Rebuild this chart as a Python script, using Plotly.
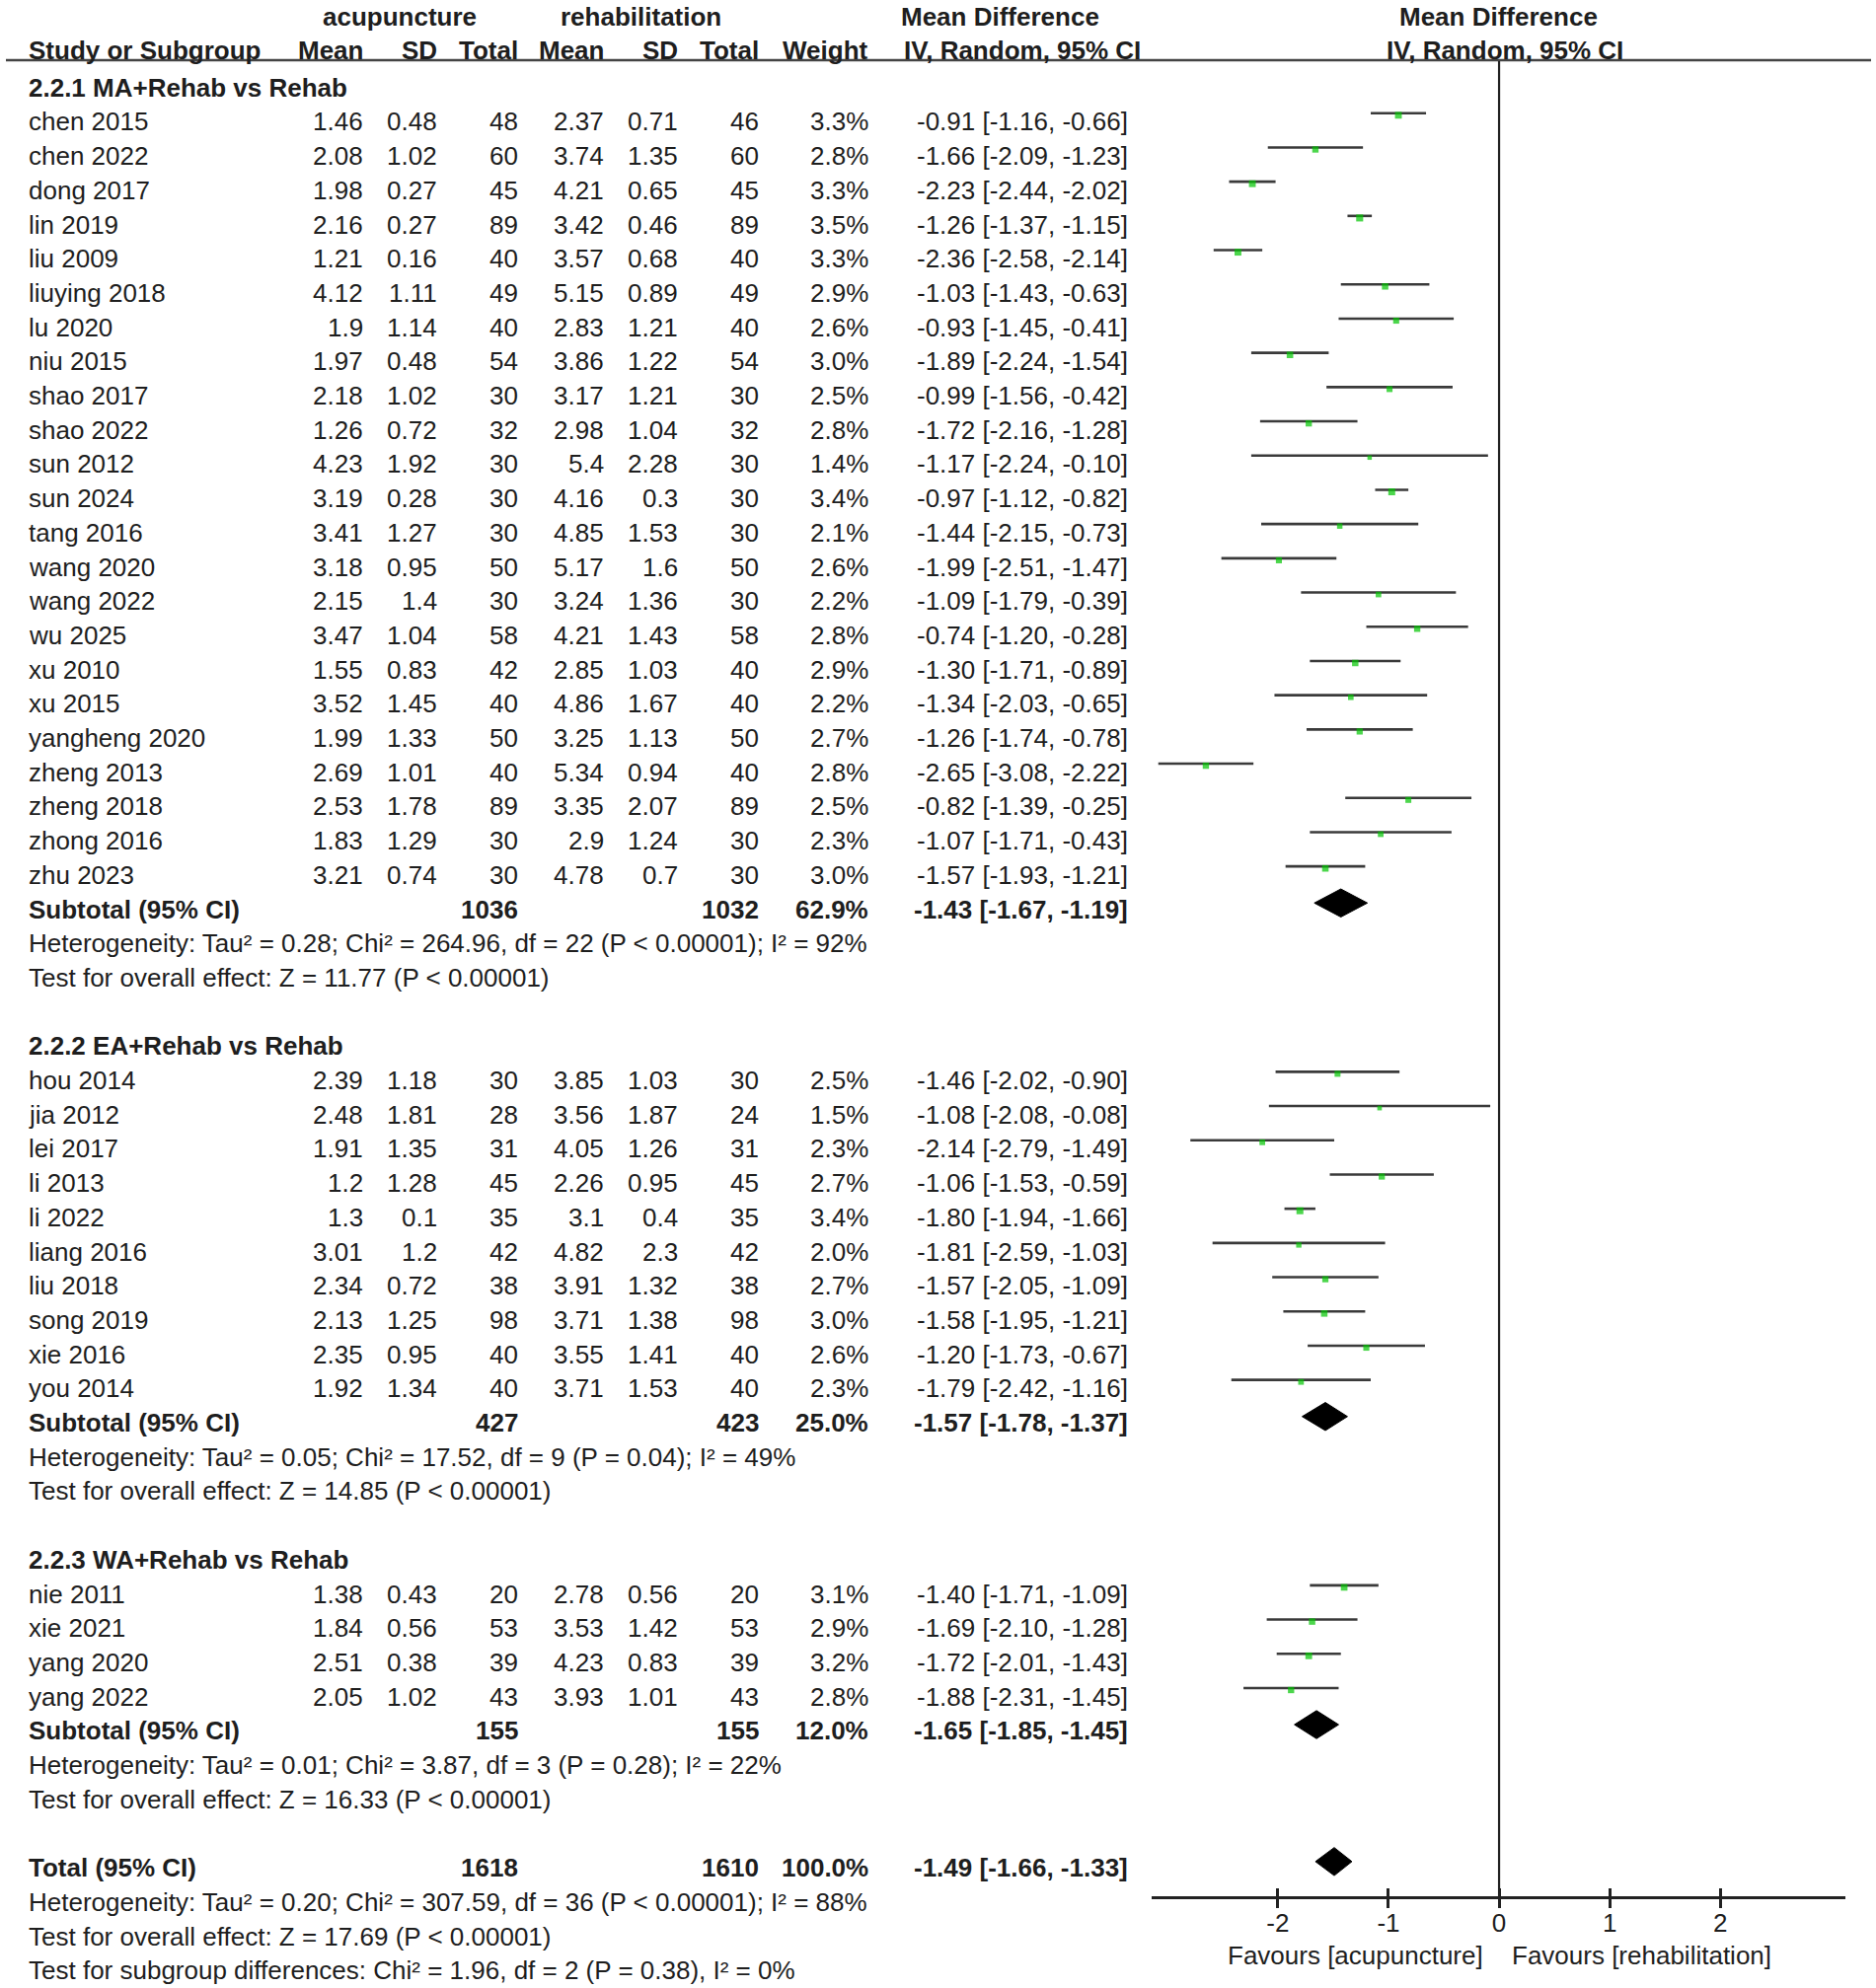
import plotly.graph_objects as go

W, H = 1901, 2015

# ---------------- data ----------------
# 2.2.1 MA+Rehab vs Rehab
g1_study = ["chen 2015", "chen 2022", "dong 2017", "lin 2019", "liu 2009", "liuying 2018", "lu 2020",
            "niu 2015", "shao 2017", "shao 2022", "sun 2012", "sun 2024", "tang 2016", "wang 2020",
            "wang 2022", "wu 2025", "xu 2010", "xu 2015", "yangheng 2020", "zheng 2013", "zheng 2018",
            "zhong 2016", "zhu 2023"]
g1_e_mean = [1.46, 2.08, 1.98, 2.16, 1.21, 4.12, 1.9, 1.97, 2.18, 1.26, 4.23, 3.19, 3.41, 3.18, 2.15, 3.47,
             1.55, 3.52, 1.99, 2.69, 2.53, 1.83, 3.21]
g1_e_sd = [0.48, 1.02, 0.27, 0.27, 0.16, 1.11, 1.14, 0.48, 1.02, 0.72, 1.92, 0.28, 1.27, 0.95, 1.4, 1.04,
           0.83, 1.45, 1.33, 1.01, 1.78, 1.29, 0.74]
g1_e_n = [48, 60, 45, 89, 40, 49, 40, 54, 30, 32, 30, 30, 30, 50, 30, 58, 42, 40, 50, 40, 89, 30, 30]
g1_c_mean = [2.37, 3.74, 4.21, 3.42, 3.57, 5.15, 2.83, 3.86, 3.17, 2.98, 5.4, 4.16, 4.85, 5.17, 3.24, 4.21,
             2.85, 4.86, 3.25, 5.34, 3.35, 2.9, 4.78]
g1_c_sd = [0.71, 1.35, 0.65, 0.46, 0.68, 0.89, 1.21, 1.22, 1.21, 1.04, 2.28, 0.3, 1.53, 1.6, 1.36, 1.43,
           1.03, 1.67, 1.13, 0.94, 2.07, 1.24, 0.7]
g1_c_n = [46, 60, 45, 89, 40, 49, 40, 54, 30, 32, 30, 30, 30, 50, 30, 58, 40, 40, 50, 40, 89, 30, 30]
g1_weight = [3.3, 2.8, 3.3, 3.5, 3.3, 2.9, 2.6, 3.0, 2.5, 2.8, 1.4, 3.4, 2.1, 2.6, 2.2, 2.8, 2.9, 2.2, 2.7,
             2.8, 2.5, 2.3, 3.0]
g1_md = [-0.91, -1.66, -2.23, -1.26, -2.36, -1.03, -0.93, -1.89, -0.99, -1.72, -1.17, -0.97, -1.44, -1.99,
         -1.09, -0.74, -1.30, -1.34, -1.26, -2.65, -0.82, -1.07, -1.57]
g1_lo = [-1.16, -2.09, -2.44, -1.37, -2.58, -1.43, -1.45, -2.24, -1.56, -2.16, -2.24, -1.12, -2.15, -2.51,
         -1.79, -1.20, -1.71, -2.03, -1.74, -3.08, -1.39, -1.71, -1.93]
g1_hi = [-0.66, -1.23, -2.02, -1.15, -2.14, -0.63, -0.41, -1.54, -0.42, -1.28, -0.10, -0.82, -0.73, -1.47,
         -0.39, -0.28, -0.89, -0.65, -0.78, -2.22, -0.25, -0.43, -1.21]

# 2.2.2 EA+Rehab vs Rehab
g2_study = ["hou 2014", "jia 2012", "lei 2017", "li 2013", "li 2022", "liang 2016", "liu 2018", "song 2019",
            "xie 2016", "you 2014"]
g2_e_mean = [2.39, 2.48, 1.91, 1.2, 1.3, 3.01, 2.34, 2.13, 2.35, 1.92]
g2_e_sd = [1.18, 1.81, 1.35, 1.28, 0.1, 1.2, 0.72, 1.25, 0.95, 1.34]
g2_e_n = [30, 28, 31, 45, 35, 42, 38, 98, 40, 40]
g2_c_mean = [3.85, 3.56, 4.05, 2.26, 3.1, 4.82, 3.91, 3.71, 3.55, 3.71]
g2_c_sd = [1.03, 1.87, 1.26, 0.95, 0.4, 2.3, 1.32, 1.38, 1.41, 1.53]
g2_c_n = [30, 24, 31, 45, 35, 42, 38, 98, 40, 40]
g2_weight = [2.5, 1.5, 2.3, 2.7, 3.4, 2.0, 2.7, 3.0, 2.6, 2.3]
g2_md = [-1.46, -1.08, -2.14, -1.06, -1.80, -1.81, -1.57, -1.58, -1.20, -1.79]
g2_lo = [-2.02, -2.08, -2.79, -1.53, -1.94, -2.59, -2.05, -1.95, -1.73, -2.42]
g2_hi = [-0.90, -0.08, -1.49, -0.59, -1.66, -1.03, -1.09, -1.21, -0.67, -1.16]

# 2.2.3 WA+Rehab vs Rehab
g3_study = ["nie 2011", "xie 2021", "yang 2020", "yang 2022"]
g3_e_mean = [1.38, 1.84, 2.51, 2.05]
g3_e_sd = [0.43, 0.56, 0.38, 1.02]
g3_e_n = [20, 53, 39, 43]
g3_c_mean = [2.78, 3.53, 4.23, 3.93]
g3_c_sd = [0.56, 1.42, 0.83, 1.01]
g3_c_n = [20, 53, 39, 43]
g3_weight = [3.1, 2.9, 3.2, 2.8]
g3_md = [-1.40, -1.69, -1.72, -1.88]
g3_lo = [-1.71, -2.10, -2.01, -2.31]
g3_hi = [-1.09, -1.28, -1.43, -1.45]

group_titles = ["2.2.1 MA+Rehab vs Rehab", "2.2.2 EA+Rehab vs Rehab", "2.2.3 WA+Rehab vs Rehab"]
sub_e_n = [1036, 427, 155]
sub_c_n = [1032, 423, 155]
sub_weight = [62.9, 25.0, 12.0]
sub_md = [-1.43, -1.57, -1.65]
sub_lo = [-1.67, -1.78, -1.85]
sub_hi = [-1.19, -1.37, -1.45]
sub_het = ["Heterogeneity: Tau² = 0.28; Chi² = 264.96, df = 22 (P < 0.00001); I² = 92%",
           "Heterogeneity: Tau² = 0.05; Chi² = 17.52, df = 9 (P = 0.04); I² = 49%",
           "Heterogeneity: Tau² = 0.01; Chi² = 3.87, df = 3 (P = 0.28); I² = 22%"]
sub_test = ["Test for overall effect: Z = 11.77 (P < 0.00001)",
            "Test for overall effect: Z = 14.85 (P < 0.00001)",
            "Test for overall effect: Z = 16.33 (P < 0.00001)"]

total_e_n, total_c_n, total_weight = 1618, 1610, 100.0
total_md, total_lo, total_hi = -1.49, -1.66, -1.33
total_het = "Heterogeneity: Tau² = 0.20; Chi² = 307.59, df = 36 (P < 0.00001); I² = 88%"
total_test = "Test for overall effect: Z = 17.69 (P < 0.00001)"
subgroup_test = "Test for subgroup differences: Chi² = 1.96, df = 2 (P = 0.38), I² = 0%"

tick_vals = [-2, -1, 0, 1, 2]
tick_text = ["-2", "-1", "0", "1", "2"]

groups = [
    (g1_study, g1_e_mean, g1_e_sd, g1_e_n, g1_c_mean, g1_c_sd, g1_c_n, g1_weight, g1_md, g1_lo, g1_hi),
    (g2_study, g2_e_mean, g2_e_sd, g2_e_n, g2_c_mean, g2_c_sd, g2_c_n, g2_weight, g2_md, g2_lo, g2_hi),
    (g3_study, g3_e_mean, g3_e_sd, g3_e_n, g3_c_mean, g3_c_sd, g3_c_n, g3_weight, g3_md, g3_lo, g3_hi),
]

# ---------------- layout constants ----------------
FONT = "Liberation Sans, Arial, sans-serif"
FS = 26
TXT = "#1e1e1e"
ROW0 = 123.4    # pixel centre of first study row
ROWH = 34.7     # pixel row height
Y_TOP = -ROW0 / ROWH
Y_BOT = (H - ROW0) / ROWH
AXIS_Y_PX = 1923
LINE_DY = -0.25   # CI line offset (rows)
MARK_DY = -0.19
DIA_DY = -0.18
DIA_H = 0.41

COL_STUDY = 27
COL_E_MEAN, COL_E_SD, COL_E_N = 370, 445, 527
COL_C_MEAN, COL_C_SD, COL_C_N = 614, 689, 771
COL_W, COL_CI = 882, 1145

ann = []


def txt(xpx, k, s, anchor="right", bold=False, size=FS):
    ann.append(dict(x=xpx / W, xref="paper", y=k, yref="y", text=(f"<b>{s}</b>" if bold else s),
                    xanchor=anchor, yanchor="middle", showarrow=False,
                    font=dict(family=FONT, size=size, color=TXT)))


def ci_str(md, lo, hi):
    return f"{md:.2f} [{lo:.2f}, {hi:.2f}]"


# header
txt(405, -3.08, "acupuncture", "center", True)
txt(649, -3.08, "rehabilitation", "center", True)
txt(1013, -3.08, "Mean Difference", "center", True)
txt(1518, -3.08, "Mean Difference", "center", True)
txt(COL_STUDY, -2.08, "Study or Subgroup", "left", True)
for xp, s in [(COL_E_MEAN, "Mean"), (COL_E_SD, "SD"), (COL_E_N, "Total"), (COL_C_MEAN, "Mean"),
              (COL_C_SD, "SD"), (COL_C_N, "Total"), (COL_W, "Weight")]:
    txt(xp, -2.08, s, "right", True)
txt(914, -2.08, "IV, Random, 95% CI", "left", True)
txt(1525, -2.08, "IV, Random, 95% CI", "center", True)

line_x, line_y, mk_x, mk_y, mk_s = [], [], [], [], []
dia_traces = []

k = -1
for gi, g in enumerate(groups):
    study, em, es, en, cm, cs, cn, wt, md, lo, hi = g
    txt(COL_STUDY, k, group_titles[gi], "left", True)
    k += 1
    for i in range(len(study)):
        txt(COL_STUDY, k, study[i], "left")
        txt(COL_E_MEAN, k, f"{em[i]:g}")
        txt(COL_E_SD, k, f"{es[i]:g}")
        txt(COL_E_N, k, str(en[i]))
        txt(COL_C_MEAN, k, f"{cm[i]:g}")
        txt(COL_C_SD, k, f"{cs[i]:g}")
        txt(COL_C_N, k, str(cn[i]))
        txt(COL_W, k, f"{wt[i]:.1f}%")
        txt(COL_CI, k, ci_str(md[i], lo[i], hi[i]))
        line_x += [lo[i], hi[i], None]
        line_y += [k + LINE_DY, k + LINE_DY, None]
        mk_x.append(md[i])
        mk_y.append(k + MARK_DY)
        mk_s.append(3.8 * wt[i] ** 0.5)
        k += 1
    # subtotal
    txt(COL_STUDY, k, "Subtotal (95% CI)", "left", True)
    txt(COL_E_N, k, str(sub_e_n[gi]), "right", True)
    txt(COL_C_N, k, str(sub_c_n[gi]), "right", True)
    txt(COL_W, k, f"{sub_weight[gi]:.1f}%", "right", True)
    txt(COL_CI, k, ci_str(sub_md[gi], sub_lo[gi], sub_hi[gi]), "right", True)
    dia_traces.append((sub_md[gi], sub_lo[gi], sub_hi[gi], k + DIA_DY))
    txt(COL_STUDY, k + 1, sub_het[gi], "left")
    txt(COL_STUDY, k + 2, sub_test[gi], "left")
    k += 4

# total
txt(COL_STUDY, k, "Total (95% CI)", "left", True)
txt(COL_E_N, k, str(total_e_n), "right", True)
txt(COL_C_N, k, str(total_c_n), "right", True)
txt(COL_W, k, f"{total_weight:.1f}%", "right", True)
txt(COL_CI, k, ci_str(total_md, total_lo, total_hi), "right", True)
dia_traces.append((total_md, total_lo, total_hi, k + DIA_DY))
txt(COL_STUDY, k + 1, total_het, "left")
txt(COL_STUDY, k + 2, total_test, "left")
txt(COL_STUDY, k + 3, subgroup_test, "left")

# favours labels (paper coords)
ann.append(dict(x=1505 / W, xref="paper", y=1 - 1982 / H, yref="paper", text="Favours [acupuncture]",
                xanchor="right", yanchor="middle", showarrow=False,
                font=dict(family=FONT, size=FS, color=TXT)))
ann.append(dict(x=1530 / W, xref="paper", y=1 - 1982 / H, yref="paper", text="Favours [rehabilitation]",
                xanchor="left", yanchor="middle", showarrow=False,
                font=dict(family=FONT, size=FS, color=TXT)))

fig = go.Figure()
fig.add_trace(go.Scatter(x=line_x, y=line_y, mode="lines", line=dict(color="#3a3a3a", width=2.6),
                         hoverinfo="skip", showlegend=False))
fig.add_trace(go.Scatter(x=mk_x, y=mk_y, mode="markers",
                         marker=dict(symbol="square", size=mk_s, color="#00c400", line=dict(width=0)),
                         showlegend=False))
for md, lo, hi, yc in dia_traces:
    fig.add_trace(go.Scatter(x=[lo, md, hi, md, lo], y=[yc, yc - DIA_H, yc, yc + DIA_H, yc],
                             mode="lines", fill="toself", fillcolor="#000000",
                             line=dict(color="#000000", width=1), showlegend=False, hoverinfo="skip"))
# invisible trace for the inside-tick overlay axis
fig.add_trace(go.Scatter(x=[0], y=[0], xaxis="x2", yaxis="y", mode="markers",
                         marker=dict(opacity=0), showlegend=False, hoverinfo="skip"))

axis_pos = (H - AXIS_Y_PX) / H
x_dom = [1167 / W, 1870 / W]
x_rng = [-3.14, 3.13]

fig.update_layout(
    width=W, height=H,
    margin=dict(l=0, r=0, t=0, b=0),
    paper_bgcolor="white", plot_bgcolor="white",
    font=dict(family=FONT, size=FS, color=TXT),
    xaxis=dict(domain=x_dom, range=x_rng, anchor="free", position=axis_pos,
               showline=True, linecolor="#222", linewidth=2.6,
               ticks="outside", ticklen=9, tickwidth=2.6, tickcolor="#222",
               tickvals=tick_vals, ticktext=tick_text, ticklabelstandoff=-7,
               tickfont=dict(family=FONT, size=FS, color=TXT),
               showgrid=False, zeroline=False, fixedrange=True),
    xaxis2=dict(domain=x_dom, range=x_rng, anchor="free", position=axis_pos, overlaying="x",
                ticks="inside", ticklen=9, tickwidth=2.6, tickcolor="#222",
                tickvals=tick_vals, showticklabels=False, showline=False,
                showgrid=False, zeroline=False, fixedrange=True),
    yaxis=dict(domain=[0, 1], range=[Y_BOT, Y_TOP], visible=False, fixedrange=True),
    annotations=ann,
    shapes=[
        dict(type="line", xref="paper", yref="paper", x0=6 / W, x1=1896 / W,
             y0=1 - 61 / H, y1=1 - 61 / H, line=dict(color="#444", width=2.6)),
        dict(type="line", xref="x", yref="paper", x0=0, x1=0,
             y0=axis_pos, y1=1 - 62 / H, line=dict(color="#222", width=2.2)),
    ],
)

fig.write_html("out.html", config={"displayModeBar": False},
               post_script="document.body.style.margin='0';document.body.style.overflow='hidden';")
